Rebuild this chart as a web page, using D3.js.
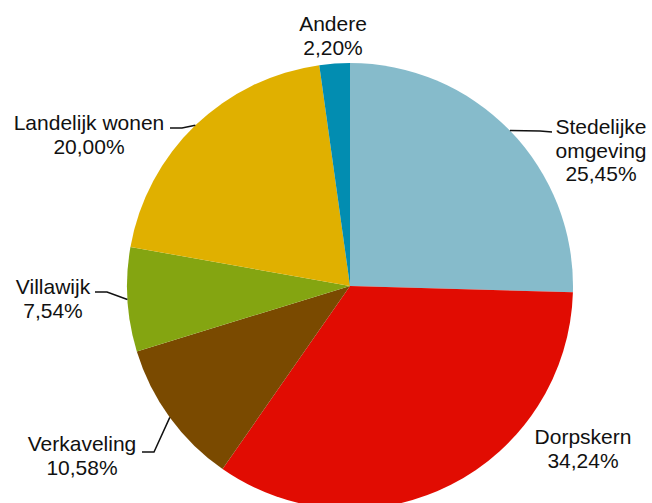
<!DOCTYPE html>
<html>
<head>
<meta charset="utf-8">
<script src="https://cdn.jsdelivr.net/npm/d3@7"></script>
<style>
  body { margin: 0; background: #fff; }
  text { font-family: "Liberation Sans", Arial, sans-serif; font-size: 21px; fill: #111; }
</style>
</head>
<body>
<svg id="chart" width="652" height="503"></svg>
<script>
// Woonomgeving - aandeel per categorie
const categories = ['Stedelijke omgeving', 'Dorpskern', 'Verkaveling', 'Villawijk', 'Landelijk wonen', 'Andere']
const values = [25.45, 34.24, 10.58, 7.54, 20.00, 2.20]
const labelLines = [
	['Stedelijke', 'omgeving', '25,45%'],
	['Dorpskern', '34,24%'],
	['Verkaveling', '10,58%'],
	['Villawijk', '7,54%'],
	['Landelijk wonen', '20,00%'],
	['Andere', '2,20%']
]
const colors = ['#86bbcb', '#e10c02', '#7a4a00', '#84a511', '#e0b000', '#028db1']

// label placement (center of first line) and leader knee, per slice
const labelPos = [
	{ x: 601, y: 127, knee: [540, 131], end: [552, 132] },
	{ x: 583, y: 437 },
	{ x: 82, y: 444, knee: [154, 452], end: [142, 452] },
	{ x: 53, y: 287, knee: [107, 292], end: [95, 292] },
	{ x: 89, y: 123, knee: [182, 128], end: [170, 128] },
	{ x: 333, y: 24 }
]

const svg = d3.select('#chart')
const cx = 350, cy = 286, radius = 223
const lineH = 23.5

const pie = d3.pie().sort(null).value(d => d)
const arcs = pie(values)
const arc = d3.arc().innerRadius(0).outerRadius(radius)

const g = svg.append('g').attr('transform', `translate(${cx},${cy})`)

g.selectAll('path.slice')
	.data(arcs)
	.enter()
	.append('path')
	.attr('class', 'slice')
	.attr('d', arc)
	.attr('fill', (d, i) => colors[i])

// leader lines: from slice edge at mid angle to the knee and on to the label
const leaders = svg.append('g')
arcs.forEach((d, i) => {
	const p = labelPos[i]
	if (!p.knee) return
	const mid = (d.startAngle + d.endAngle) / 2
	const x0 = cx + radius * Math.sin(mid)
	const y0 = cy - radius * Math.cos(mid)
	leaders.append('path')
		.attr('d', `M ${x0} ${y0} L ${p.knee[0]} ${p.knee[1]} L ${p.end[0]} ${p.end[1]}`)
		.attr('fill', 'none')
		.attr('stroke', '#111')
		.attr('stroke-width', 1.5)
})

// labels
const labels = svg.append('g')
labelLines.forEach((lines, i) => {
	const p = labelPos[i]
	const t = labels.append('text')
		.attr('text-anchor', 'middle')
	lines.forEach((ln, j) => {
		t.append('tspan')
			.attr('x', p.x)
			.attr('y', p.y + j * lineH)
			.attr('dy', '0.35em')
			.text(ln)
	})
})
</script>
</body>
</html>
